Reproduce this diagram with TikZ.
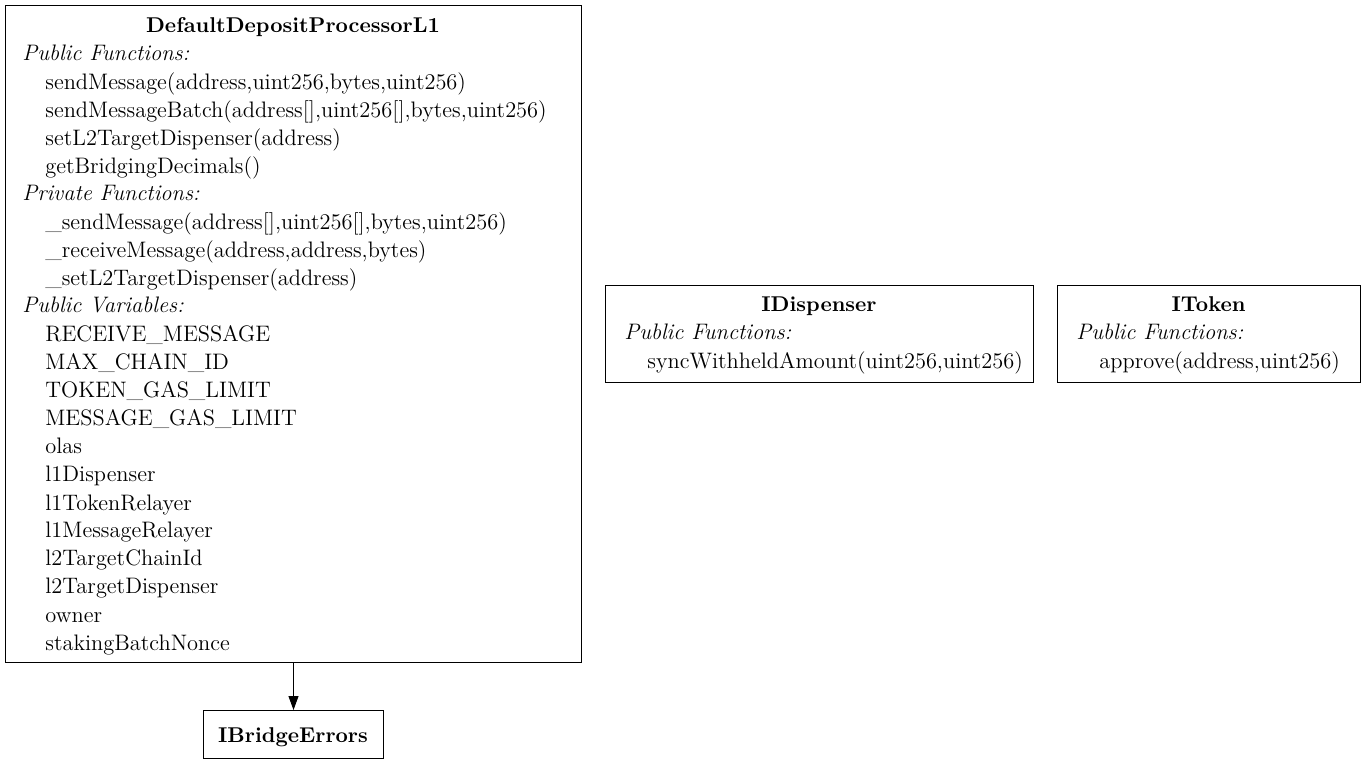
\documentclass[tikz,border=0pt]{standalone}
\usepackage{tikz}
\usetikzlibrary{arrows.meta,positioning}

\begin{document}
\begin{tikzpicture}[
  x=0.5pt, y=-0.5pt,
  font=\fontsize{11.2}{13}\selectfont,
  box/.style={draw, line width=0.5pt, inner sep=0pt, anchor=north west},
  title/.style={anchor=base, inner sep=0pt, font=\fontsize{10.7}{13}\selectfont\bfseries},
  head/.style={anchor=base west, inner sep=0pt, font=\fontsize{11.2}{13}\selectfont\itshape},
  item/.style={anchor=base west, inner sep=0pt},
  arr/.style={-{Triangle[length=7pt, width=5pt]}, line width=0.5pt}
]
\useasboundingbox (0,0) rectangle (1366,764);

% contract boxes
\node[box, minimum width=288pt, minimum height=328.5pt] (ddp) at (5,5) {};
\node[box, minimum width=90pt, minimum height=24pt] (errs) at (203,710) {};
\node[box, minimum width=214pt, minimum height=48.5pt] (disp) at (605,285) {};
\node[box, minimum width=151.5pt, minimum height=48.5pt] (tok) at (1057,285) {};

% DefaultDepositProcessorL1
\node[title] (ddp-name) at (293,33) {DefaultDepositProcessorL1};
\node[head] (ddp-pubf) at (22,61) {Public Functions:};
\foreach \txt [count=\i] in {{sendMessage(address,uint256,bytes,uint256)},
    {sendMessageBatch(address[],uint256[],bytes,uint256)},
    {setL2TargetDispenser(address)}, {getBridgingDecimals()}}
  \node[item] (ddp-pubf-\i) at (45,62+28*\i) {\txt};
\node[head] (ddp-privf) at (22,201) {Private Functions:};
\foreach \txt [count=\i] in {{\_sendMessage(address[],uint256[],bytes,uint256)},
    {\_receiveMessage(address,address,bytes)}, {\_setL2TargetDispenser(address)}}
  \node[item] (ddp-privf-\i) at (45,202+28*\i) {\txt};
\node[head] (ddp-pubv) at (22,313) {Public Variables:};
\foreach \txt [count=\i] in {RECEIVE\_MESSAGE, MAX\_CHAIN\_ID, TOKEN\_GAS\_LIMIT,
    MESSAGE\_GAS\_LIMIT, olas, l1Dispenser, l1TokenRelayer, l1MessageRelayer,
    l2TargetChainId, l2TargetDispenser, owner, stakingBatchNonce}
  \node[item] (ddp-pubv-\i) at (45,314+28*\i) {\txt};

% IBridgeErrors
\node[title] (errs-name) at (293,742) {IBridgeErrors};

% IDispenser
\node[title] (disp-name) at (819,312) {IDispenser};
\node[head] (disp-pubf) at (624,340) {Public Functions:};
\node[item] (disp-pubf-1) at (647,369) {syncWithheldAmount(uint256,uint256)};

% IToken
\node[title] (tok-name) at (1208.5,312) {IToken};
\node[head] (tok-pubf) at (1076,340) {Public Functions:};
\node[item] (tok-pubf-1) at (1099,369) {approve(address,uint256)};

\draw[arr] (ddp.south -| errs.north) -- (errs.north);
\end{tikzpicture}
\end{document}
